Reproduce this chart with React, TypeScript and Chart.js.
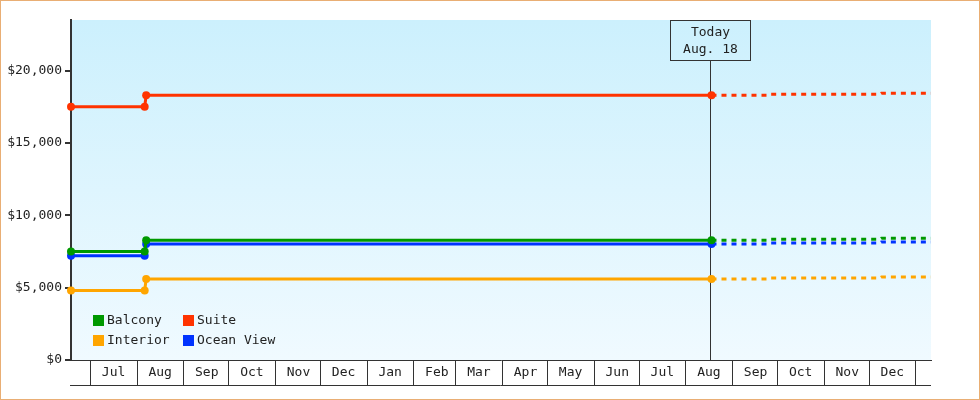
import React, { useEffect, useRef } from "react";
import { Chart, registerables } from "chart.js";

Chart.register(...registerables);

const seriesNames = ["Balcony", "Suite", "Interior", "Ocean View"];
const seriesColors = ["#009900", "#ff3300", "#ffa500", "#0033ff"];

const historyDates = ["2024-06-18", "2024-08-06", "2024-08-07", "2025-08-18"];
const projectionDates = ["2025-09-24", "2025-09-25", "2025-12-08", "2025-12-09", "2026-01-11"];

const balconyValues = [7500, 7500, 8280, 8280, 8280, 8350, 8350, 8420, 8420];
const suiteValues = [17500, 17500, 18300, 18300, 18300, 18370, 18370, 18440, 18440];
const interiorValues = [4800, 4800, 5590, 5590, 5590, 5660, 5660, 5730, 5730];
const oceanViewValues = [7200, 7200, 8020, 8020, 8020, 8090, 8090, 8160, 8160];

const monthTickDates = [
  "2024-07-01", "2024-08-01", "2024-09-01", "2024-10-01", "2024-11-01", "2024-12-01",
  "2025-01-01", "2025-02-01", "2025-03-01", "2025-04-01", "2025-05-01", "2025-06-01",
  "2025-07-01", "2025-08-01", "2025-09-01", "2025-10-01", "2025-11-01", "2025-12-01",
  "2026-01-01",
];
const monthLabels = [
  "Jul", "Aug", "Sep", "Oct", "Nov", "Dec", "Jan", "Feb", "Mar", "Apr", "May", "Jun",
  "Jul", "Aug", "Sep", "Oct", "Nov", "Dec", "",
];
const yTickValues = [0, 5000, 10000, 15000, 20000];

const rangeStart = "2024-06-18";
const rangeEnd = "2026-01-11";
const todayDate = "2025-08-18";
const todayLines = ["Today", "Aug. 18"];
const yMax = 23500;

const FONT = "'DejaVu Sans Mono', 'Liberation Mono', monospace";
const INK = "#222";
const AXIS = "#333";

function dayNum(s: string): number {
  const [y, m, d] = s.split("-").map(Number);
  return Date.UTC(y, m - 1, d) / 86400000;
}

const allDates = [...historyDates, ...projectionDates];
const todayIndex = historyDates.length - 1;

export default function App() {
  const ref = useRef<HTMLCanvasElement | null>(null);

  useEffect(() => {
    const canvas = ref.current;
    if (!canvas) return;
    const valueSets = [balconyValues, suiteValues, interiorValues, oceanViewValues];

    const datasets = seriesNames.map((name, i) => ({
      label: name,
      data: allDates.map((d, j) => ({ x: dayNum(d), y: valueSets[i][j] })),
      borderColor: seriesColors[i],
      backgroundColor: seriesColors[i],
      borderWidth: 3,
      pointRadius: allDates.map((_, j) => (j <= todayIndex ? 4 : 0)),
      pointHoverRadius: 0,
      pointBorderWidth: 0,
      pointStyle: "circle",
      tension: 0,
      fill: false,
      clip: false,
      segment: {
        borderDash: (ctx: any) => (ctx.p0DataIndex >= todayIndex ? [5, 5] : undefined),
      },
    }));

    const bgPlugin = {
      id: "bg",
      beforeDraw(chart: any) {
        const { ctx, chartArea } = chart;
        const g = ctx.createLinearGradient(0, chartArea.top, 0, chartArea.bottom);
        g.addColorStop(0, "#ccf0fd");
        g.addColorStop(1, "#f0faff");
        ctx.save();
        ctx.fillStyle = g;
        ctx.fillRect(chartArea.left, chartArea.top, chartArea.right - chartArea.left, chartArea.bottom - chartArea.top);
        ctx.restore();
      },
      beforeDatasetsDraw(chart: any) {
        const { ctx, chartArea } = chart;
        const x = Math.round(chart.scales.x.getPixelForValue(dayNum(todayDate))) - 0.5;
        ctx.save();
        ctx.strokeStyle = AXIS;
        ctx.lineWidth = 1;
        ctx.beginPath();
        ctx.moveTo(x, chartArea.top + 40);
        ctx.lineTo(x, chartArea.bottom);
        ctx.stroke();
        ctx.restore();
      },
      afterDraw(chart: any) {
        const { ctx, chartArea } = chart;
        ctx.save();
        // bottom line of month band
        ctx.strokeStyle = AXIS;
        ctx.lineWidth = 1;
        ctx.beginPath();
        ctx.moveTo(chartArea.left - 1, chartArea.bottom + 25.5);
        ctx.lineTo(chartArea.right, chartArea.bottom + 25.5);
        ctx.stroke();
        // today box
        const x = Math.round(chart.scales.x.getPixelForValue(dayNum(todayDate))) - 1;
        ctx.strokeRect(x - 39.5, chartArea.top + 0.5, 80, 40);
        ctx.fillStyle = INK;
        ctx.font = `13px ${FONT}`;
        ctx.textAlign = "center";
        ctx.textBaseline = "middle";
        ctx.fillText(todayLines[0], x + 0.5, chartArea.top + 12.5);
        ctx.fillText(todayLines[1], x + 0.5, chartArea.top + 30);
        // legend
        ctx.textAlign = "left";
        chart.data.datasets.forEach((ds: any, i: number) => {
          const col = i % 2;
          const row = Math.floor(i / 2);
          const sx = chartArea.left + 22 + col * 90;
          const sy = chartArea.bottom - 45 + row * 20;
          ctx.fillStyle = ds.borderColor;
          ctx.fillRect(sx, sy, 11, 11);
          ctx.fillStyle = INK;
          ctx.fillText(ds.label, sx + 14, sy + 6);
        });
        // outer border
        ctx.strokeStyle = "#e9ae74";
        ctx.strokeRect(0.5, 0.5, chart.width - 1, chart.height - 1);
        ctx.restore();
      },
    };

    const chart = new Chart(canvas, {
      type: "line",
      data: { datasets: datasets as any },
      plugins: [bgPlugin],
      options: {
        animation: false,
        responsive: false,
        events: [],
        layout: { padding: { top: 20, right: 49, left: 0, bottom: 0 } },
        plugins: { legend: { display: false }, tooltip: { enabled: false } },
        scales: {
          x: {
            type: "linear",
            min: dayNum(rangeStart),
            max: dayNum(rangeEnd),
            afterBuildTicks: (scale: any) => {
              scale.ticks = monthTickDates.map((d) => ({ value: dayNum(d) }));
            },
            afterFit: (scale: any) => {
              scale.height = 40;
            },
            grid: { drawOnChartArea: false, tickLength: 25, color: AXIS, lineWidth: 1 },
            border: { display: true, color: AXIS, width: 1 },
            ticks: {
              autoSkip: false,
              maxRotation: 0,
              minRotation: 0,
              labelOffset: 23,
              padding: -20,
              color: INK,
              font: { family: FONT, size: 13 },
              callback: (_v: any, i: number) => monthLabels[i] ?? "",
            },
          },
          y: {
            min: 0,
            max: yMax,
            afterBuildTicks: (scale: any) => {
              scale.ticks = yTickValues.map((v) => ({ value: v }));
            },
            afterFit: (scale: any) => {
              scale.width = 71;
            },
            grid: { drawOnChartArea: false, tickLength: 6, color: AXIS, lineWidth: 2 },
            border: { display: true, color: AXIS, width: 2 },
            ticks: {
              padding: 3,
              color: INK,
              font: { family: FONT, size: 13 },
              callback: (v: any) => "$" + Number(v).toLocaleString("en-US"),
            },
          },
        },
      } as any,
    });
    return () => chart.destroy();
  }, []);

  return (
    <div style={{ position: "fixed", left: 0, top: 0, width: 980, height: 400, background: "#fff" }}>
      <canvas ref={ref} width={980} height={400} style={{ width: 980, height: 400, display: "block" }} />
    </div>
  );
}
